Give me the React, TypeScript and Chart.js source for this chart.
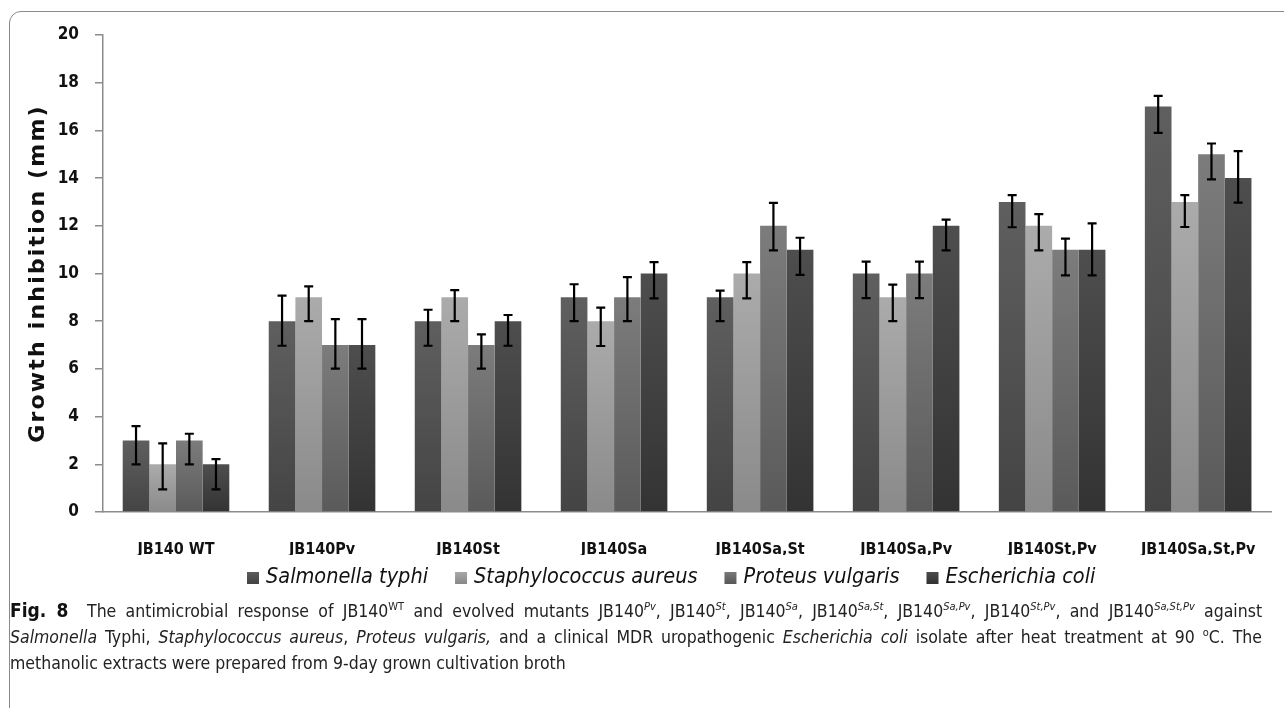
import React, { useEffect, useRef } from "react";
import { Chart, registerables } from "chart.js";

Chart.register(...registerables);

const categories = ["JB140 WT", "JB140Pv", "JB140St", "JB140Sa", "JB140Sa,St", "JB140Sa,Pv", "JB140St,Pv", "JB140Sa,St,Pv"];
const seriesNames = ["Salmonella typhi", "Staphylococcus aureus", "Proteus vulgaris", "Escherichia coli"];
const yTitle = "Growth inhibition (mm)";

const salmonella = [3, 8, 8, 9, 9, 10, 13, 17];
const staphylococcus = [2, 9, 9, 8, 10, 9, 12, 13];
const proteus = [3, 7, 7, 9, 12, 10, 11, 15];
const escherichia = [2, 7, 8, 10, 11, 12, 11, 14];

const salmonellaErrUp = [0.6, 1.07, 0.48, 0.55, 0.28, 0.5, 0.29, 0.45];
const salmonellaErrDown = [1.0, 1.03, 1.03, 1.0, 1.0, 1.03, 1.06, 1.1];
const staphylococcusErrUp = [0.88, 0.46, 0.3, 0.57, 0.48, 0.53, 0.49, 0.29];
const staphylococcusErrDown = [1.05, 1.0, 1.0, 1.04, 1.04, 1.0, 1.03, 1.05];
const proteusErrUp = [0.28, 1.09, 0.45, 0.85, 0.96, 0.5, 0.46, 0.45];
const proteusErrDown = [1.0, 0.99, 0.99, 1.0, 1.03, 1.03, 1.08, 1.05];
const escherichiaErrUp = [0.22, 1.09, 0.26, 0.48, 0.5, 0.26, 1.1, 1.13];
const escherichiaErrDown = [1.05, 0.99, 1.03, 1.04, 1.06, 1.03, 1.08, 1.03];

const yTicks = [0, 2, 4, 6, 8, 10, 12, 14, 16, 18, 20];

const barTop = ["#5f5f5f", "#ababab", "#7c7c7c", "#4e4e4e"];
const barBottom = ["#444444", "#8a8a8a", "#5a5a5a", "#333333"];

const NARROW = "'DejaVu Sans Condensed', 'Liberation Sans', sans-serif";

function makeGradient(ctx: CanvasRenderingContext2D, y0: number, y1: number, i: number) {
  if (!isFinite(y0) || !isFinite(y1) || y0 === y1) return barTop[i] as any;
  const g = ctx.createLinearGradient(0, y0, 0, y1);
  g.addColorStop(0, barTop[i]);
  g.addColorStop(1, barBottom[i]);
  return g;
}

const errorBarPlugin = {
  id: "errorBars",
  afterDatasetsDraw(chart: any) {
    const ctx = chart.ctx;
    const yScale = chart.scales.y;
    ctx.save();
    ctx.strokeStyle = "#000";
    ctx.lineWidth = 2.2;
    chart.data.datasets.forEach((ds: any, i: number) => {
      const meta = chart.getDatasetMeta(i);
      meta.data.forEach((bar: any, j: number) => {
        const v = ds.data[j];
        const yt = yScale.getPixelForValue(v + ds.errUp[j]);
        const yb = yScale.getPixelForValue(v - ds.errDown[j]);
        const x = bar.x;
        ctx.beginPath();
        ctx.moveTo(x, yt);
        ctx.lineTo(x, yb);
        ctx.moveTo(x - 4.5, yt);
        ctx.lineTo(x + 4.5, yt);
        ctx.moveTo(x - 4.5, yb);
        ctx.lineTo(x + 4.5, yb);
        ctx.stroke();
      });
    });
    ctx.restore();
  },
};

const legendPlugin = {
  id: "customLegend",
  afterDraw(chart: any) {
    const ctx = chart.ctx;
    const startX = 247;
    const cy = 577;
    const box = 12;
    const gapText = 7;
    const gapItem = 27;
    ctx.save();
    ctx.font = `italic 21.5px ${NARROW}`;
    let x = startX;
    chart.data.datasets.forEach((d: any, i: number) => {
      ctx.fillStyle = makeGradient(ctx, cy - box / 2, cy + box / 2, i);
      ctx.fillRect(x, cy - box / 2 + 1, box, box);
      x += box + gapText;
      ctx.fillStyle = "#111";
      ctx.textBaseline = "middle";
      ctx.textAlign = "left";
      ctx.fillText(d.label, x, cy);
      x += ctx.measureText(d.label).width + gapItem;
    });
    ctx.restore();
  },
};

const yTitlePlugin = {
  id: "yTitle",
  afterDraw(chart: any) {
    const ctx = chart.ctx;
    const area = chart.chartArea;
    ctx.save();
    ctx.translate(38, (area.top + area.bottom) / 2);
    ctx.rotate(-Math.PI / 2);
    ctx.font = "bold 22px 'DejaVu Sans', sans-serif";
    (ctx as any).letterSpacing = "2.2px";
    ctx.fillStyle = "#111";
    ctx.textAlign = "center";
    ctx.textBaseline = "middle";
    ctx.fillText(yTitle, 0, 0);
    ctx.restore();
  },
};

export default function App() {
  const ref = useRef<HTMLCanvasElement | null>(null);

  useEffect(() => {
    if (!ref.current) return;
    const values = [salmonella, staphylococcus, proteus, escherichia];
    const ups = [salmonellaErrUp, staphylococcusErrUp, proteusErrUp, escherichiaErrUp];
    const downs = [salmonellaErrDown, staphylococcusErrDown, proteusErrDown, escherichiaErrDown];
    const chart = new Chart(ref.current, {
      type: "bar",
      data: {
        labels: categories,
        datasets: seriesNames.map((name, i) => ({
          label: name,
          data: values[i],
          errUp: ups[i],
          errDown: downs[i],
          backgroundColor: (c: any) => {
            const ch = c.chart;
            const ys = ch.scales && ch.scales.y;
            if (!ys || !ch.chartArea || c.dataIndex === undefined) return barTop[i];
            const v = values[i][c.dataIndex];
            return makeGradient(ch.ctx, ys.getPixelForValue(v), ys.getPixelForValue(0), i);
          },
          borderWidth: 0,
          categoryPercentage: 0.73,
          barPercentage: 1,
        })) as any,
      },
      options: {
        animation: false,
        responsive: false,
        devicePixelRatio: 1,
        layout: { padding: { left: 0, right: 9, top: 35, bottom: 45 } },
        plugins: { legend: { display: false }, tooltip: { enabled: false } },
        scales: {
          x: {
            grid: { display: false, drawTicks: false },
            border: { display: true, color: "#8c8c8c", width: 1.5 },
            ticks: { font: { family: NARROW, size: 16, weight: "bold" }, color: "#111", padding: 28, maxRotation: 0 },
            afterFit: (s: any) => { s.height = 43; },
          },
          y: {
            min: 0,
            max: 20,
            afterBuildTicks: (s: any) => { s.ticks = yTicks.map((v) => ({ value: v })); },
            grid: { display: true, drawOnChartArea: false, drawTicks: true, tickLength: 8, color: "#8c8c8c", lineWidth: 1.5 },
            border: { display: true, color: "#8c8c8c", width: 1.5 },
            ticks: { font: { family: NARROW, size: 17, weight: "bold" }, color: "#111", padding: 16 },
            title: { display: false },
            afterFit: (s: any) => { s.width = 103; },
          },
        },
      },
      plugins: [errorBarPlugin, legendPlugin, yTitlePlugin],
    });
    return () => chart.destroy();
  }, []);

  const sup: React.CSSProperties = { fontSize: 11, fontStyle: "italic", verticalAlign: "7px", lineHeight: 0 };
  const supN: React.CSSProperties = { fontSize: 11, verticalAlign: "7px", lineHeight: 0 };
  const justified: React.CSSProperties = { textAlign: "justify", textAlignLast: "justify" as any, whiteSpace: "normal" };

  return (
    <div style={{ position: "absolute", left: 0, top: 0, width: 1284, height: 708, overflow: "hidden", background: "#fff" }}>
      <div style={{ position: "absolute", left: 9, top: 11, width: 1400, height: 800, border: "1.5px solid #8a8a8a", borderTopLeftRadius: 12 }} />
      <canvas ref={ref} width={1284} height={600} style={{ position: "absolute", left: 0, top: 0 }} />
      <div
        style={{
          position: "absolute",
          left: 10,
          top: 597,
          width: 1252,
          fontFamily: NARROW,
          fontSize: 17.5,
          lineHeight: "26px",
          color: "#222",
        }}
      >
        <div style={justified}>
          <b style={{ fontSize: 19, color: "#111" }}>Fig. 8</b>&nbsp; The antimicrobial response of JB140<span style={supN}>WT</span> and evolved mutants JB140<span style={sup}>Pv</span>, JB140<span style={sup}>St</span>, JB140<span style={sup}>Sa</span>, JB140<span style={sup}>Sa,St</span>, JB140<span style={sup}>Sa,Pv</span>, JB140<span style={sup}>St,Pv</span>, and JB140<span style={sup}>Sa,St,Pv</span> against
        </div>
        <div style={justified}>
          <i>Salmonella</i> Typhi, <i>Staphylococcus aureus</i>, <i>Proteus vulgaris,</i> and a clinical MDR uropathogenic <i>Escherichia coli</i> isolate after heat treatment at 90 <span style={supN}>o</span>C. The
        </div>
        <div style={{ whiteSpace: "nowrap" }}>methanolic extracts were prepared from 9-day grown cultivation broth</div>
      </div>
    </div>
  );
}
